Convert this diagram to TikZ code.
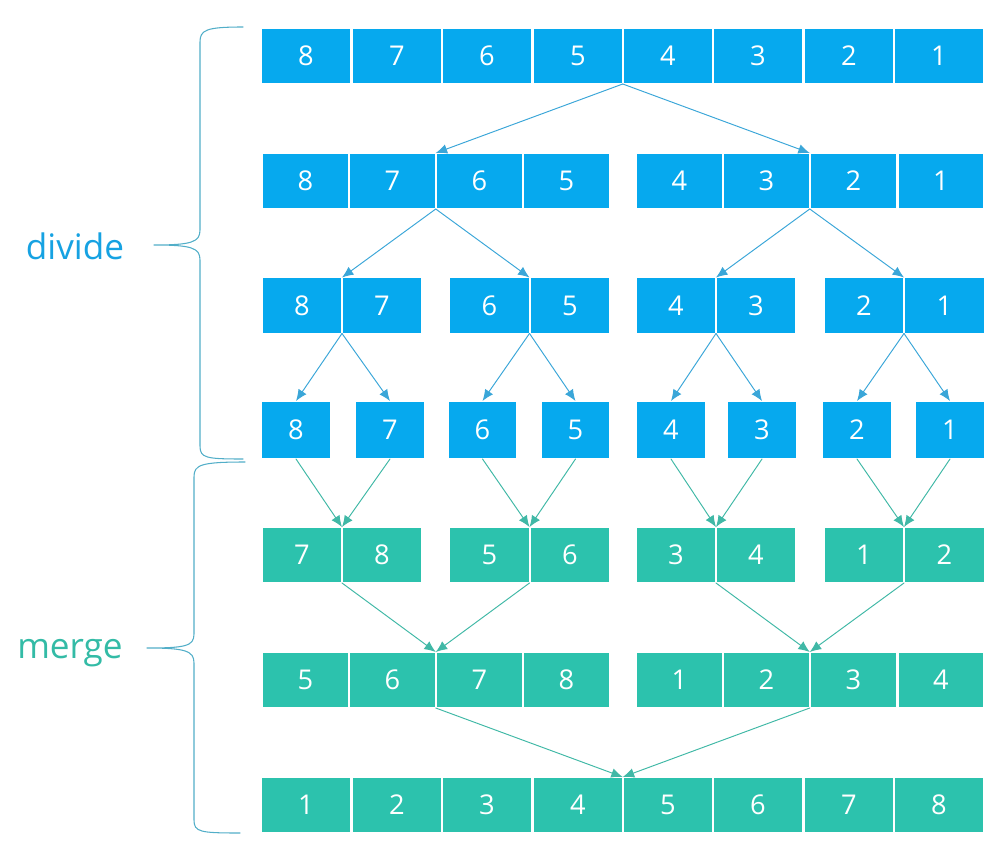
\documentclass[tikz,border=0pt]{standalone}
\usepackage{fontspec}
\setmainfont{Open Sans}
\usetikzlibrary{arrows.meta}
\definecolor{cellblue}{HTML}{06A9EE}
\definecolor{cellteal}{HTML}{2CC2AD}
\definecolor{arrblue}{HTML}{3AA6D8}
\definecolor{arrteal}{HTML}{40B8A6}
\definecolor{textblue}{HTML}{16A2E2}
\definecolor{textteal}{HTML}{33BBA6}
\definecolor{bracecol}{HTML}{52AEC8}
\tikzset{
  cell/.style={draw=white,line width=1pt,text=white,font=\fontsize{15.5}{15.5}\selectfont,
    minimum height=1.12cm,inner sep=0pt,outer sep=0pt},
  bcell/.style={cell,fill=cellblue},
  tcell/.style={cell,fill=cellteal},
  darr/.style={draw=arrblue,line width=0.55pt,-{Latex[length=6.5pt,width=5.5pt]}},
  marr/.style={draw=arrteal,line width=0.55pt,-{Latex[length=6.5pt,width=5.5pt]}},
}
\begin{document}
\begin{tikzpicture}[x=0.02cm,y=-0.02cm,line cap=round,line join=round]
  \useasboundingbox (0,0) rectangle (1000,858);
  % divide
  \foreach \x/\v [count=\i] in {306/8,397/7,487/6,578/5,668/4,758/3,849/2,939/1}
    \node[bcell,minimum width=1.79cm] (a\i) at (\x,56) {\v};
  \foreach \x/\v [count=\i] in {305.5/8,392.5/7,479.5/6,566.5/5,679.5/4,766.5/3,853.5/2,941/1}
    \node[bcell,minimum width=1.73cm] (b\i) at (\x,181) {\v};
  \foreach \x/\v [count=\i] in {302/8,382/7,489.5/6,570/5,676/4,756/3,864/2,944.5/1}
    \node[bcell,minimum width=1.6cm] (c\i) at (\x,305.5) {\v};
  \foreach \x/\v [count=\i] in {296/8,390/7,482.5/6,575.5/5,671/4,762/3,857/2,950/1}
    \node[bcell,minimum width=1.38cm,minimum height=1.16cm] (d\i) at (\x,430) {\v};
  % merge
  \foreach \x/\v [count=\i] in {302/7,382/8,489.5/5,570/6,676/3,756/4,864/1,944.5/2}
    \node[tcell,minimum width=1.6cm] (e\i) at (\x,555) {\v};
  \foreach \x/\v [count=\i] in {305.5/5,392.5/6,479.5/7,566.5/8,679.5/1,766.5/2,853.5/3,941/4}
    \node[tcell,minimum width=1.73cm] (f\i) at (\x,680) {\v};
  \foreach \x/\v [count=\i] in {306/1,397/2,487/3,578/4,668/5,758/6,849/7,939/8}
    \node[tcell,minimum width=1.79cm] (g\i) at (\x,805) {\v};
  % arrows
  \draw[darr] (a4.south east) -- (b2.north east);
  \draw[darr] (a4.south east) -- (b6.north east);
  \draw[darr] (b2.south east) -- (c1.north east);
  \draw[darr] (b2.south east) -- (c3.north east);
  \draw[darr] (b6.south east) -- (c5.north east);
  \draw[darr] (b6.south east) -- (c7.north east);
  \foreach \i/\j in {1/2,3/4,5/6,7/8} {
    \draw[darr] (c\i.south east) -- (d\i.north);
    \draw[darr] (c\i.south east) -- (d\j.north);
    \draw[marr] (d\i.south) -- (e\i.north east);
    \draw[marr] (d\j.south) -- (e\i.north east);
  }
  \draw[marr] (e1.south east) -- (f2.north east);
  \draw[marr] (e3.south east) -- (f2.north east);
  \draw[marr] (e5.south east) -- (f6.north east);
  \draw[marr] (e7.south east) -- (f6.north east);
  \draw[marr] (f2.south east) -- (g4.north east);
  \draw[marr] (f6.south east) -- (g4.north east);
  % braces
  \draw[bracecol,line width=0.6pt] (243,27) .. controls (206,27) and (200,30) .. (200,42)
    -- (200,230) .. controls (200,242) and (192,245) .. (154,245)
    .. controls (192,245) and (200,248) .. (200,260) -- (200,446)
    .. controls (200,458) and (206,459) .. (243,459);
  \draw[bracecol,line width=0.6pt] (245,462) .. controls (200,462) and (194,465) .. (194,477)
    -- (194,634) .. controls (194,646) and (186,648) .. (147,648)
    .. controls (186,648) and (194,651) .. (194,663) -- (194,820)
    .. controls (194,832) and (200,833) .. (240,833);
  \node[anchor=base,text=textblue,font=\fontsize{20}{20}\selectfont] (dv) at (75,259) {divide};
  \node[anchor=base,text=textteal,font=\fontsize{20}{20}\selectfont] (mg) at (70,658) {merge};
\end{tikzpicture}
\end{document}
